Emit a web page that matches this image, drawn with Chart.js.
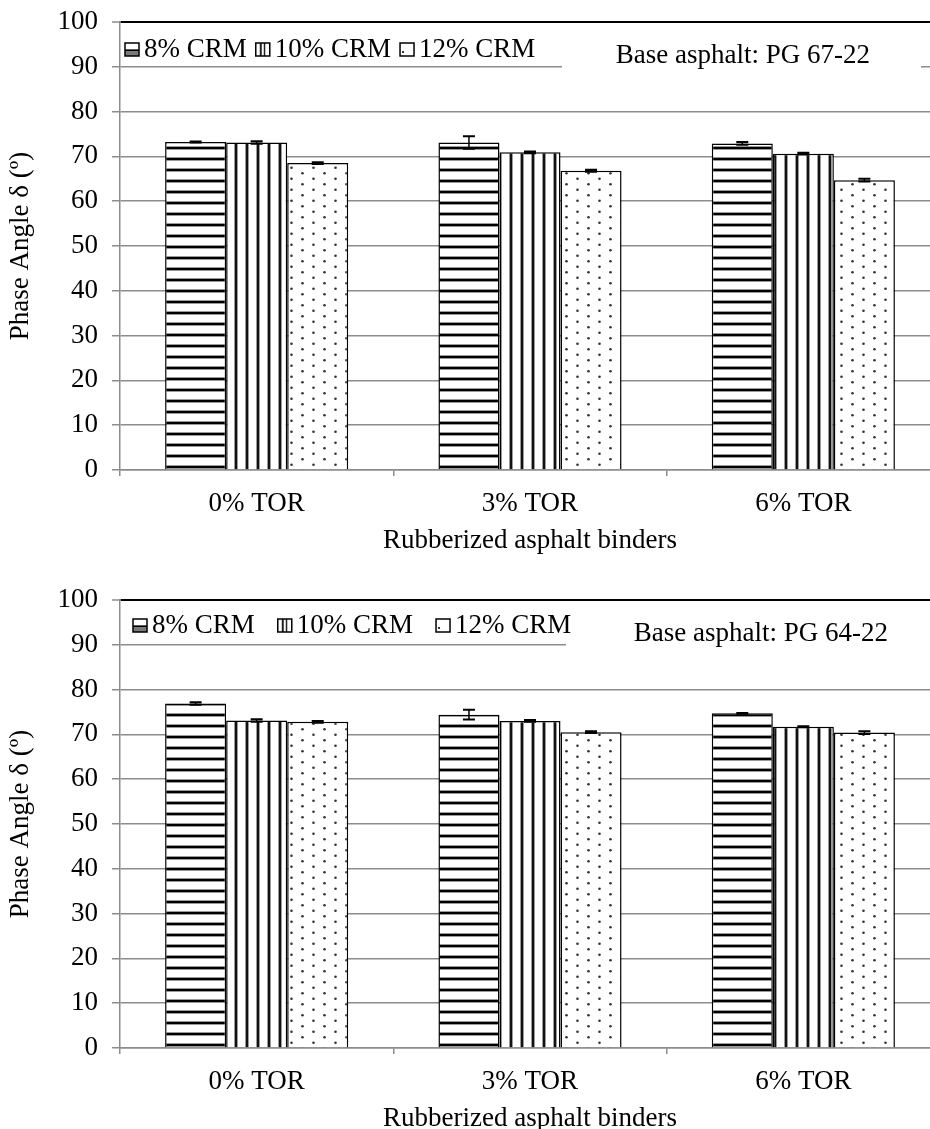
<!DOCTYPE html>
<html>
<head>
<meta charset="utf-8">
<script src="https://cdn.jsdelivr.net/npm/chart.js@4.4.1/dist/chart.umd.min.js"></script>
<style>
  html, body { margin: 0; padding: 0; background: #fff; overflow: hidden; width: 930px; height: 1129px; }
  canvas { position: absolute; left: 0; }
  #chartTop { top: 0; }
  #chartBottom { top: 578px; }
</style>
</head>
<body>
<canvas id="chartTop" width="950" height="578"></canvas>
<canvas id="chartBottom" width="950" height="578"></canvas>
<script>
// categories and series
const binders = ['0% TOR', '3% TOR', '6% TOR'];
const crmLabels = ['8% CRM', '10% CRM', '12% CRM'];
const yTicks = [0, 10, 20, 30, 40, 50, 60, 70, 80, 90, 100];

// base asphalt PG 67-22
const pg67Crm8 = [73.2, 73.1, 72.9];
const pg67Crm10 = [73.1, 70.9, 70.6];
const pg67Crm12 = [68.5, 66.8, 64.7];
const pg67Err8 = [0.1, 1.4, 0.3];
const pg67Err10 = [0.3, 0.2, 0.2];
const pg67Err12 = [0.2, 0.2, 0.3];

// base asphalt PG 64-22
const pg64Crm8 = [76.9, 74.4, 74.7];
const pg64Crm10 = [73.1, 73.0, 71.7];
const pg64Crm12 = [72.8, 70.5, 70.4];
const pg64Err8 = [0.3, 1.1, 0.1];
const pg64Err10 = [0.3, 0.2, 0.1];
const pg64Err12 = [0.2, 0.2, 0.3];

const serif = 'Liberation Serif';
const font = { family: serif, size: 27 };
const gridGray = '#8c8c8c';

// fill patterns: horizontal lines, vertical lines, dots
function makePattern(kind) {
  const c = document.createElement('canvas');
  const g = c.getContext('2d');
  if (kind === 'h') {
    c.width = 8; c.height = 11;
    g.fillStyle = '#fff'; g.fillRect(0, 0, 8, 11);
    g.fillStyle = '#9a9a9a'; g.fillRect(0, 3, 8, 1); g.fillRect(0, 6, 8, 1);
    g.fillStyle = '#000'; g.fillRect(0, 4, 8, 2);
  } else if (kind === 'v') {
    c.width = 11; c.height = 8;
    g.fillStyle = '#fff'; g.fillRect(0, 0, 11, 8);
    g.fillStyle = '#9a9a9a'; g.fillRect(3, 0, 1, 8); g.fillRect(6, 0, 1, 8);
    g.fillStyle = '#111'; g.fillRect(4, 0, 2, 8);
  } else {
    c.width = 22; c.height = 11;
    g.fillStyle = '#fff'; g.fillRect(0, 0, 22, 11);
    g.fillStyle = '#333';
    g.beginPath(); g.arc(5.5, 2.75, 1.3, 0, Math.PI * 2); g.fill();
    g.beginPath(); g.arc(16.5, 8.25, 1.3, 0, Math.PI * 2); g.fill();
  }
  return g.createPattern(c, 'repeat');
}

const fills = [makePattern('h'), makePattern('v'), makePattern('d')];

// small legend swatches
function drawSwatch(ctx, i, x, y) {
  const w = 14, h = 13;
  ctx.save();
  ctx.fillStyle = '#fff';
  ctx.fillRect(x, y, w, h);
  if (i === 0) {
    ctx.fillStyle = '#7a7a7a';
    ctx.fillRect(x, y + h / 2, w, h / 2);
    ctx.fillStyle = '#000';
    ctx.fillRect(x, y + h / 2, w, 1.5);
  } else if (i === 1) {
    ctx.fillStyle = '#222';
    ctx.fillRect(x + 4, y, 2, h);
    ctx.fillRect(x + 8, y, 1.5, h);
  } else {
    ctx.fillStyle = '#333';
    ctx.fillRect(x + 2, y + h - 5, 2, 2);
  }
  ctx.strokeStyle = '#000';
  ctx.lineWidth = 1.5;
  ctx.strokeRect(x, y, w, h);
  ctx.restore();
}

function buildChart(id, series, errors, note, look) {
  const datasets = series.map((vals, i) => ({
    label: crmLabels[i],
    data: vals,
    backgroundColor: fills[i],
    borderColor: '#000',
    borderWidth: 1.5,
    categoryPercentage: 0.67,
    barPercentage: 1.0
  }));

  const extras = {
    id: 'extras',
    afterDatasetsDraw(chart) {
      const ctx = chart.ctx;
      const y = chart.scales.y;
      const area = chart.chartArea;

      // error bars
      ctx.save();
      ctx.strokeStyle = '#000';
      chart.data.datasets.forEach((ds, i) => {
        chart.getDatasetMeta(i).data.forEach((bar, j) => {
          const v = ds.data[j], e = errors[i][j];
          const yHi = y.getPixelForValue(v + e);
          const yLo = y.getPixelForValue(v - e);
          ctx.lineWidth = 1.5;
          ctx.beginPath();
          ctx.moveTo(bar.x, yHi); ctx.lineTo(bar.x, yLo);
          ctx.stroke();
          ctx.lineWidth = 2;
          ctx.beginPath();
          ctx.moveTo(bar.x - 6, yHi); ctx.lineTo(bar.x + 6, yHi);
          ctx.moveTo(bar.x - 6, yLo); ctx.lineTo(bar.x + 6, yLo);
          ctx.stroke();
        });
      });
      ctx.restore();

      // base asphalt note on a white box
      ctx.save();
      ctx.fillStyle = '#fff';
      ctx.fillRect(look.boxLeft, area.top + 4, look.boxRight - look.boxLeft, 62);
      ctx.fillStyle = '#000';
      ctx.font = `${font.size}px "${serif}"`;
      ctx.textAlign = 'right';
      ctx.textBaseline = 'alphabetic';
      ctx.fillText(note, look.noteRight, look.noteBase);

      // legend row
      ctx.textAlign = 'left';
      let x = look.legendX;
      chart.data.datasets.forEach((ds, i) => {
        drawSwatch(ctx, i, x, look.legendBase - 14);
        x += 19;
        ctx.fillText(ds.label, x, look.legendBase);
        x += ctx.measureText(ds.label).width + look.legendGap;
      });
      ctx.restore();
    }
  };

  return new Chart(document.getElementById(id), {
    type: 'bar',
    data: { labels: binders, datasets },
    options: {
      responsive: false,
      animation: false,
      devicePixelRatio: 1,
      layout: { padding: { top: 22, right: 10, bottom: 21, left: 0 } },
      plugins: {
        legend: { display: false },
        tooltip: { enabled: false }
      },
      scales: {
        x: {
          ticks: { font, color: '#000', padding: 12 },
          grid: {
            drawOnChartArea: false,
            drawTicks: true,
            tickLength: 6,
            color: gridGray,
            lineWidth: 1.5,
            offset: true
          },
          border: { color: gridGray, width: 1.5 },
          title: { display: true, text: 'Rubberized asphalt binders', font, color: '#000', padding: 0 },
          afterFit: s => { s.height = 87; }
        },
        y: {
          min: 0,
          max: 100,
          afterBuildTicks: s => { s.ticks = yTicks.map(v => ({ value: v })); },
          ticks: { font, color: '#000', padding: 14 },
          grid: {
            color: c => (c.tick && c.tick.value === 100 ? '#000' : gridGray),
            lineWidth: c => (c.tick && c.tick.value === 100 ? 2 : 1.5),
            tickLength: 8,
            tickColor: gridGray,
            tickWidth: 1.5
          },
          border: { color: gridGray, width: 1.5 },
          title: { display: true, text: 'Phase Angle δ (º)', font, color: '#000', padding: { top: 5, bottom: 0 } },
          // fixed axis width; the top label may hang into the padding
          afterFit: s => { s.width = 120; s.paddingTop = 0; s.paddingBottom = 0; }
        }
      }
    },
    plugins: [extras]
  });
}

buildChart('chartTop',
  [pg67Crm8, pg67Crm10, pg67Crm12],
  [pg67Err8, pg67Err10, pg67Err12],
  'Base asphalt: PG 67-22',
  { boxLeft: 562, boxRight: 921, noteRight: 870, noteBase: 63, legendX: 125, legendBase: 57, legendGap: 9 });

buildChart('chartBottom',
  [pg64Crm8, pg64Crm10, pg64Crm12],
  [pg64Err8, pg64Err10, pg64Err12],
  'Base asphalt: PG 64-22',
  { boxLeft: 566, boxRight: 944, noteRight: 888, noteBase: 63, legendX: 133, legendBase: 55, legendGap: 23 });
</script>
</body>
</html>
